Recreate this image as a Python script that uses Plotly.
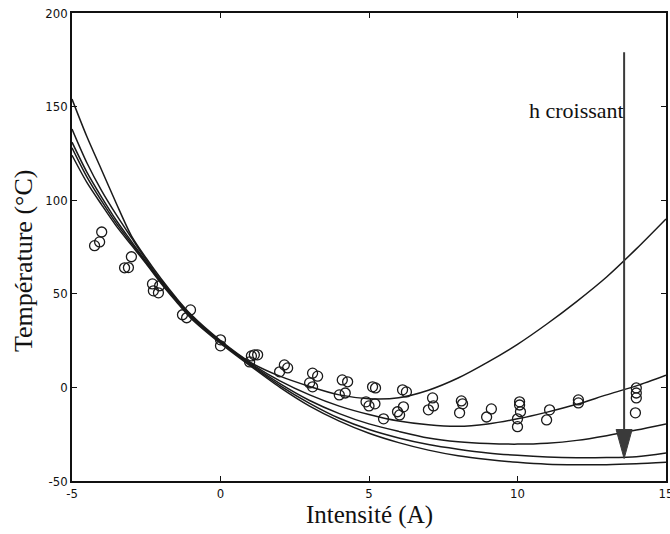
import plotly.graph_objects as go

# Model curves, shared x grid
curve_x = [-5, -4.5, -4, -3.5, -3, -2.5, -2, -1.5, -1, 0, 1, 2, 3, 4, 5, 6, 7, 8, 9, 10, 11, 12, 13, 14, 15]
curve_a = [154, 134, 116, 98, 81, 69, 58, 48, 39, 25, 13.5, 6, 0.5, -4, -6, -5.5, -1.5, 5, 13.5, 23, 34, 46, 59, 74, 90]
curve_b = [138, 120, 105, 92, 80, 68, 57, 47.5, 38.5, 24.5, 13, 3.5, -4, -10, -14.5, -18, -20, -20.8, -19.5, -16.8, -13.2, -9, -4, 0.8, 6.5]
curve_c = [131, 115, 101.5, 89, 78, 67, 56.5, 47, 38, 24.5, 12.5, 2, -7, -14, -19.5, -23.5, -27, -29, -30, -30.3, -29.8, -28.3, -25.8, -22.8, -19.5]
curve_d = [128, 112.5, 99.5, 87.5, 77, 66.5, 56, 46.5, 37.5, 24, 12, 1, -8.5, -16.5, -22.5, -27, -30.5, -33, -35, -36.3, -37.2, -37.6, -37.5, -37, -35]
curve_e = [124, 109.5, 97.5, 86, 76, 66, 55.5, 46, 37, 23.5, 11.5, 0, -10, -18, -24.5, -29.5, -33.5, -36.5, -38.5, -40, -41, -41.3, -41.3, -40.8, -40]

# Measured points
meas_x = [-4.24, -4.07, -4.0, -3.23, -3.1, -3.0, -2.29, -2.26, -2.09, -2.05, -1.28, -1.14, -1.01, 0, 0,
          1.04, 1.14, 1.25, 0.98, 1.99, 2.15, 2.26, 3.1, 3.27, 3.0, 3.1, 4.1, 4.28, 4.0, 4.2,
          5.12, 5.22, 4.9, 5.0, 5.2, 5.49, 6.13, 6.26, 5.96, 6.03, 6.16, 7.14, 7.17, 7.0,
          8.11, 8.15, 8.05, 9.12, 8.96, 10.07, 10.07, 10.1, 10.0, 10.0, 11.08, 10.98, 12.05, 12.05,
          14.0, 14.0, 14.0, 13.97]
meas_y = [75.7, 77.7, 83, 63.9, 64, 69.8, 55.3, 51.6, 50.5, 54.3, 38.8, 37.2, 41.4, 25.4, 22.2,
          16.8, 17.4, 17.4, 13.6, 8.3, 12, 10.4, 7.6, 6.0, 2.4, 0.3, 4, 3, -4, -3,
          0.3, -0.3, -7.7, -9.9, -8.8, -16.8, -1.3, -2.4, -13, -14.7, -10.4, -5.6, -9.9, -12,
          -7.2, -8.8, -13.6, -11.5, -15.8, -7.7, -9.4, -13, -16.8, -21, -12, -17.4, -6.7, -8.3,
          -0.3, -3, -5.6, -13.6]

x_ticks = [-5, 0, 5, 10, 15]
y_ticks = [-50, 0, 50, 100, 150, 200]

arrow_x = 13.59
arrow_top = 179
arrow_tip = -38
head_len = 15.5      # in y units
head_half = 0.27     # in x units
label_text = "h croissant"
label_y = 148

INK = "#1a1a1a"
fig = go.Figure()
for cy in [curve_a, curve_b, curve_c, curve_d, curve_e]:
    fig.add_trace(go.Scatter(x=curve_x, y=cy, mode="lines",
                             line=dict(color=INK, width=1.5, shape="spline", smoothing=0.8),
                             showlegend=False, hoverinfo="skip"))
fig.add_trace(go.Scatter(x=meas_x, y=meas_y, mode="markers",
                         marker=dict(symbol="circle-open", size=10, color=INK, line=dict(width=1.3)),
                         showlegend=False))

# arrow shaft and head
fig.add_shape(type="line", xref="x", yref="y", x0=arrow_x, x1=arrow_x,
              y0=arrow_top, y1=arrow_tip + head_len, line=dict(color="#3a3a3a", width=2))
fig.add_shape(type="path", xref="x", yref="y",
              path=f"M {arrow_x - head_half},{arrow_tip + head_len} L {arrow_x + head_half},{arrow_tip + head_len} L {arrow_x},{arrow_tip} Z",
              fillcolor="#3a3a3a", line=dict(color="#3a3a3a", width=1))
fig.add_annotation(x=arrow_x + 0.05, y=label_y, xref="x", yref="y", text=label_text, showarrow=False,
                   xanchor="right", yanchor="middle",
                   font=dict(family="Liberation Serif", size=22, color="#111111"))

# axis titles
fig.add_annotation(x=0.5, y=-0.0727, xref="paper", yref="paper", text="Intensité (A)", showarrow=False,
                   xanchor="center", yanchor="middle",
                   font=dict(family="Liberation Serif", size=25, color="#111111"))
fig.add_annotation(x=-0.0825, y=0.472, xref="paper", yref="paper", text="Température (°C)", showarrow=False,
                   xanchor="center", yanchor="middle", textangle=-90,
                   font=dict(family="Liberation Serif", size=26, color="#111111"))

axis_common = dict(showline=True, linecolor="#111111", linewidth=1.5, mirror="ticks",
                   ticks="inside", ticklen=5, tickcolor="#111111", showgrid=False, zeroline=False,
                   automargin=False,
                   tickfont=dict(family="DejaVu Sans Condensed", size=13, color="#111111"))
fig.update_xaxes(range=[-5, 15], tickvals=x_ticks, ticktext=[str(v) for v in x_ticks],
                 ticklabeloverflow="allow", **axis_common)
fig.update_yaxes(range=[-50, 200], tickvals=y_ticks, ticktext=[str(v) for v in y_ticks],
                 ticklabeloverflow="allow", **axis_common)
fig.update_layout(width=670, height=534, margin=dict(l=72, r=4, t=13, b=53),
                  plot_bgcolor="white", paper_bgcolor="white")
fig.write_html("out.html", config={"displayModeBar": False},
               post_script="document.body.style.margin='0';document.documentElement.style.overflow='hidden';document.body.style.overflow='hidden';")
